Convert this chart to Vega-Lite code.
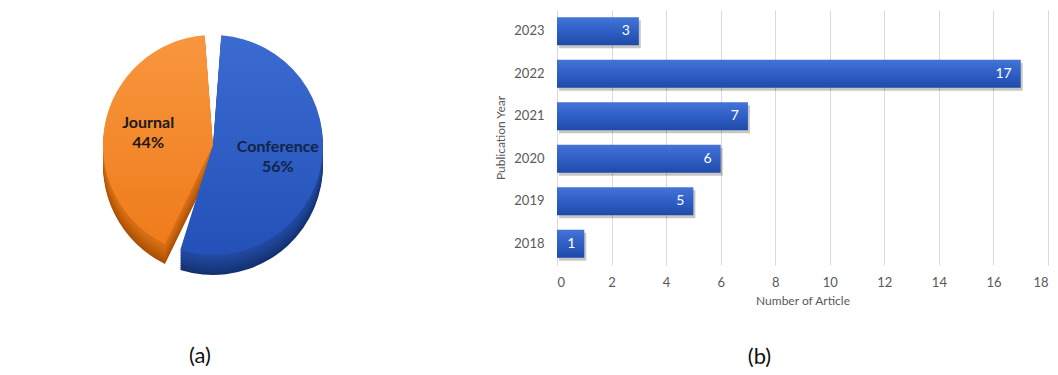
{
  "$schema": "https://vega.github.io/schema/vega-lite/v6.json",
  "padding": {"top": 10, "left": 5, "right": 5, "bottom": 5},
  "background": "white",
  "config": {"view": {"stroke": null}, "font": "Lato", "concat": {"spacing": 73}},
  "datasets": {
    "share": [
      {"type": "Conference", "share": 0.56},
      {"type": "Journal", "share": 0.44}
    ],
    "years": [
      {"year": "2018", "count": 1},
      {"year": "2019", "count": 5},
      {"year": "2020", "count": 6},
      {"year": "2021", "count": 7},
      {"year": "2022", "count": 17},
      {"year": "2023", "count": 3}
    ]
  },
  "hconcat": [
    {
      "width": 416,
      "height": 270,
      "data": {"name": "share"},
      "title": {"text": "(a)", "orient": "bottom", "fontSize": 22, "fontWeight": "normal", "font": "Lato", "color": "#111111", "offset": 66, "dx": -13},
      "encoding": {
        "theta": {"field": "share", "type": "quantitative", "stack": true},
        "order": {"field": "type", "type": "nominal"}
      },
      "layer": [
        {"mark": {"type": "arc", "outerRadius": 110, "yOffset": 20, "padAngle": 0.15}, "encoding": {"color": {"condition": {"test": "datum.type === 'Conference'", "value": "#14306e"}, "value": "#a94f06"}}},
        {"mark": {"type": "arc", "outerRadius": 110, "yOffset": 18, "padAngle": 0.15}, "encoding": {"color": {"condition": {"test": "datum.type === 'Conference'", "value": "#163476"}, "value": "#b05308"}}},
        {"mark": {"type": "arc", "outerRadius": 110, "yOffset": 16, "padAngle": 0.15}, "encoding": {"color": {"condition": {"test": "datum.type === 'Conference'", "value": "#17377c"}, "value": "#b65709"}}},
        {"mark": {"type": "arc", "outerRadius": 110, "yOffset": 14, "padAngle": 0.15}, "encoding": {"color": {"condition": {"test": "datum.type === 'Conference'", "value": "#193b83"}, "value": "#bc5b0a"}}},
        {"mark": {"type": "arc", "outerRadius": 110, "yOffset": 12, "padAngle": 0.15}, "encoding": {"color": {"condition": {"test": "datum.type === 'Conference'", "value": "#1a3d88"}, "value": "#c25f0b"}}},
        {"mark": {"type": "arc", "outerRadius": 110, "yOffset": 10, "padAngle": 0.15}, "encoding": {"color": {"condition": {"test": "datum.type === 'Conference'", "value": "#1c408d"}, "value": "#c7630d"}}},
        {"mark": {"type": "arc", "outerRadius": 110, "yOffset": 8, "padAngle": 0.15}, "encoding": {"color": {"condition": {"test": "datum.type === 'Conference'", "value": "#1d4392"}, "value": "#cc660f"}}},
        {"mark": {"type": "arc", "outerRadius": 110, "yOffset": 6, "padAngle": 0.15}, "encoding": {"color": {"condition": {"test": "datum.type === 'Conference'", "value": "#1f4597"}, "value": "#d16a11"}}},
        {"mark": {"type": "arc", "outerRadius": 110, "yOffset": 4, "padAngle": 0.15}, "encoding": {"color": {"condition": {"test": "datum.type === 'Conference'", "value": "#20479b"}, "value": "#d56d13"}}},
        {"mark": {"type": "arc", "outerRadius": 110, "yOffset": 2, "padAngle": 0.15}, "encoding": {"color": {"condition": {"test": "datum.type === 'Conference'", "value": "#22499f"}, "value": "#d97015"}}},
        {"mark": {"type": "arc", "outerRadius": 110, "padAngle": 0.15}, "encoding": {"color": {"condition": {"test": "datum.type === 'Conference'", "value": {"gradient": "linear", "x1": 0, "y1": 0, "x2": 0, "y2": 1, "stops": [{"offset": 0, "color": "#3b6bd0"}, {"offset": 1, "color": "#2351b8"}]}}, "value": {"gradient": "linear", "x1": 0, "y1": 0, "x2": 0, "y2": 1, "stops": [{"offset": 0, "color": "#f8963e"}, {"offset": 1, "color": "#ef7c1c"}]}}}},
        {"mark": {"type": "text", "fontSize": 16, "fontWeight": "bold", "font": "Lato", "dy": -10}, "encoding": {"radius": {"value": 66}, "text": {"field": "type", "type": "nominal"}, "color": {"condition": {"test": "datum.type === 'Conference'", "value": "#14234a"}, "value": "#1a1a1a"}}},
        {"mark": {"type": "text", "fontSize": 16, "fontWeight": "bold", "font": "Lato", "dy": 10}, "encoding": {"radius": {"value": 66}, "text": {"field": "share", "type": "quantitative", "format": ".0%"}, "color": {"condition": {"test": "datum.type === 'Conference'", "value": "#14234a"}, "value": "#1a1a1a"}}}
      ]
    },
    {
      "width": 491,
      "height": 255,
      "data": {"name": "years"},
      "title": {"text": "(b)", "orient": "bottom", "fontSize": 22, "fontWeight": "normal", "font": "Lato", "color": "#111111", "offset": 41, "dx": -43},
      "encoding": {
        "y": {"field": "year", "type": "nominal", "sort": "descending", "title": "Publication Year",
              "scale": {"paddingInner": 0.34, "paddingOuter": 0.17},
              "axis": {"ticks": false, "domain": false, "labelPadding": 13, "labelFontSize": 13, "labelColor": "#595959", "titleFontSize": 12, "titleColor": "#595959", "titleFontWeight": "normal", "titlePadding": 6, "labelFont": "Lato", "titleFont": "Lato"}},
        "x": {"field": "count", "type": "quantitative", "title": "Number of Article",
              "scale": {"domain": [0, 18]},
              "axis": {"values": [0, 2, 4, 6, 8, 10, 12, 14, 16, 18], "grid": true, "gridColor": "#d9d9d9", "domain": false, "ticks": false, "labelPadding": 11, "labelFontSize": 13, "labelColor": "#595959", "titleFontSize": 12, "titleColor": "#595959", "titleFontWeight": "normal", "titlePadding": 6, "labelFont": "Lato", "titleFont": "Lato"}}
      },
      "layer": [
        {"mark": {"type": "bar", "color": "#000000", "opacity": 0.22, "xOffset": 2, "yOffset": 3}},
        {"mark": {"type": "bar", "color": {"gradient": "linear", "x1": 0, "y1": 0, "x2": 0, "y2": 1, "stops": [{"offset": 0, "color": "#4474d6"}, {"offset": 0.5, "color": "#2f5fc6"}, {"offset": 1, "color": "#1f4aa8"}]}}},
        {"mark": {"type": "text", "align": "right", "dx": -9, "color": "#ffffff", "fontSize": 14, "font": "Lato"}, "encoding": {"text": {"field": "count", "type": "quantitative"}}}
      ]
    }
  ]
}
